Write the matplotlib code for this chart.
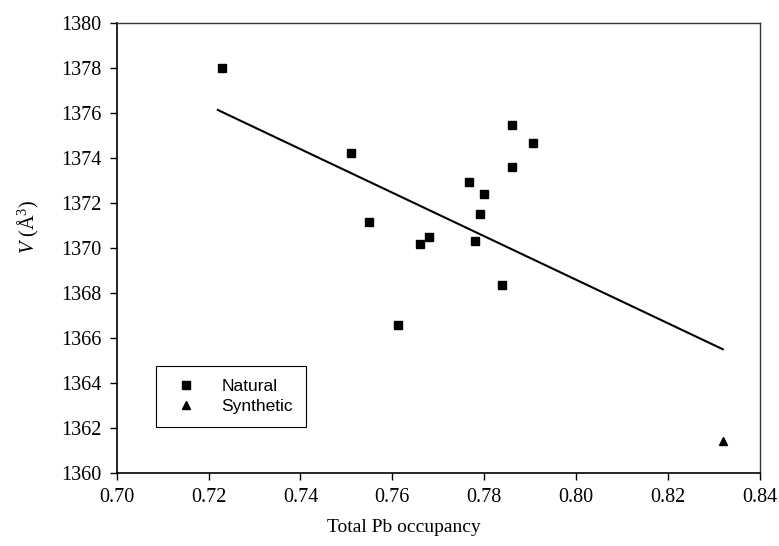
import matplotlib
matplotlib.use('Agg')
import matplotlib.pyplot as plt

# natural samples (squares)
pb_nat = [0.723, 0.751, 0.755, 0.7613, 0.766, 0.768, 0.7767, 0.778, 0.779,
          0.780, 0.784, 0.786, 0.786, 0.7906]
v_nat = [1378.0, 1374.25, 1371.15, 1366.6, 1370.2, 1370.5, 1372.95, 1370.3,
         1371.5, 1372.4, 1368.35, 1375.5, 1373.6, 1374.7]

# synthetic sample (triangle)
pb_syn = [0.832]
v_syn = [1361.4]

# fitted line end points
fit_x = [0.722, 0.832]
fit_y = [1376.15, 1365.5]

xticks = [0.70, 0.72, 0.74, 0.76, 0.78, 0.80, 0.82, 0.84]
yticks = [1360, 1362, 1364, 1366, 1368, 1370, 1372, 1374, 1376, 1378, 1380]

plt.rcParams['font.family'] = ['Liberation Serif', 'DejaVu Serif']
plt.rcParams['mathtext.fontset'] = 'custom'
plt.rcParams['mathtext.rm'] = 'Liberation Serif'
plt.rcParams['mathtext.it'] = 'Liberation Serif:italic'

fig = plt.figure(figsize=(7.79, 5.46), dpi=100)
ax = fig.add_axes([0.150, 0.134, 0.825, 0.823])

ax.plot(fit_x, fit_y, color='black', lw=1.5, zorder=2)
ax.plot(pb_nat, v_nat, 's', color='black', ms=5.2, ls='none', label='Natural', zorder=3)
ax.plot(pb_syn, v_syn, '^', color='black', ms=5.5, ls='none', label='Synthetic', zorder=3)

ax.set_xlim(0.70, 0.84)
ax.set_ylim(1360, 1380)
ax.set_xticks(xticks)
ax.set_xticklabels(['%.2f' % t for t in xticks])
ax.set_yticks(yticks)
ax.tick_params(direction='out', length=5, width=1, labelsize=14.5, pad=6,
               top=False, right=False)
for s in ['left', 'bottom']:
    ax.spines[s].set_linewidth(1.2)
for s in ['top', 'right']:
    ax.spines[s].set_linewidth(1.0)
    ax.spines[s].set_color('#333333')

leg = ax.legend(loc='upper left', bbox_to_anchor=(0.061, 0.238), borderaxespad=0,
                frameon=True, fancybox=False, edgecolor='black', framealpha=1,
                prop={'family': 'Liberation Sans', 'size': 12.5},
                handletextpad=1.0, borderpad=0.75, labelspacing=0.3,
                handlelength=2.0, markerscale=1.0)
leg.get_frame().set_linewidth(0.8)

fig.text(404 / 779, 1 - 528 / 546, 'Total Pb occupancy', ha='center', va='center',
         fontsize=14)
fig.text(28 / 779, 1 - 227 / 546, r'$V$ (Å$^3$)', rotation=90, ha='center', va='center',
         fontsize=14.5)

fig.savefig('out.png', dpi=100)
